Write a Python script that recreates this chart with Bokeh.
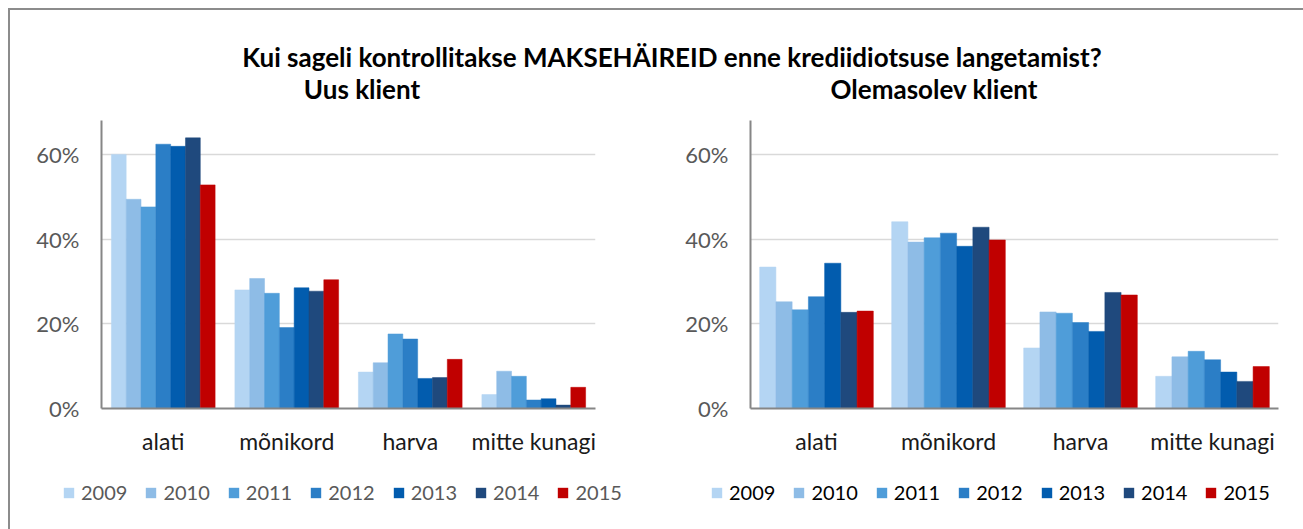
from bokeh.plotting import figure
from bokeh.models import (ColumnDataSource, Range1d, FactorRange, FixedTicker,
                          PrintfTickFormatter, Legend, LegendItem, Div)
from bokeh.transform import dodge
from bokeh.layouts import column, row
from bokeh.embed import file_html
from bokeh.resources import INLINE

# ---------------- data ----------------
main_title = "Kui sageli kontrollitakse MAKSEHÄIREID enne krediidiotsuse langetamist?"
subtitle_left = "Uus klient"
subtitle_right = "Olemasolev klient"
categories = ["alati", "mõnikord", "harva", "mitte kunagi"]
years = ["2009", "2010", "2011", "2012", "2013", "2014", "2015"]
colors = ["#b4d5f3", "#8ebce6", "#4f9dd9", "#2b7ec6", "#025cae", "#1f497d", "#c00000"]
y_ticks = [0, 20, 40, 60]

# Uus klient (%)
uus_2009 = [60.0, 28.0, 8.6, 3.3]
uus_2010 = [49.4, 30.7, 10.8, 8.8]
uus_2011 = [47.6, 27.2, 17.6, 7.6]
uus_2012 = [62.4, 19.1, 16.4, 2.0]
uus_2013 = [61.9, 28.5, 7.1, 2.3]
uus_2014 = [63.9, 27.7, 7.3, 0.8]
uus_2015 = [52.8, 30.4, 11.6, 5.0]

# Olemasolev klient (%)
ole_2009 = [33.4, 44.1, 14.3, 7.6]
ole_2010 = [25.2, 39.3, 22.8, 12.2]
ole_2011 = [23.3, 40.3, 22.5, 13.5]
ole_2012 = [26.4, 41.4, 20.3, 11.5]
ole_2013 = [34.3, 38.3, 18.2, 8.6]
ole_2014 = [22.7, 42.8, 27.4, 6.4]
ole_2015 = [23.0, 39.8, 26.8, 9.9]

uus_series = [uus_2009, uus_2010, uus_2011, uus_2012, uus_2013, uus_2014, uus_2015]
ole_series = [ole_2009, ole_2010, ole_2011, ole_2012, ole_2013, ole_2014, ole_2015]

FONT = "Lato"


def make_chart(series, width, mb_left, mb_right, bar_w):
    p = figure(x_range=FactorRange(*categories), y_range=Range1d(0, 68),
               width=width, height=350, output_backend="svg", title=None,
               toolbar_location=None, min_border_left=mb_left,
               min_border_right=mb_right, min_border_top=10,
               min_border_bottom=52)
    p.outline_line_color = None
    p.background_fill_color = "white"
    p.border_fill_color = "white"

    n = len(series)
    for i, (vals, col) in enumerate(zip(series, colors)):
        src = ColumnDataSource(dict(cat=categories, val=vals))
        p.vbar(x=dodge("cat", (i - (n - 1) / 2) * bar_w, range=p.x_range),
               top="val", width=bar_w, source=src,
               fill_color=col, line_color=col, line_width=0.5)

    for ax in (p.xaxis[0], p.yaxis[0]):
        ax.axis_line_color = "#868686"
        ax.axis_line_width = 2
        ax.major_tick_line_color = None
        ax.minor_tick_line_color = None
        ax.major_label_text_font = FONT
    p.yaxis.ticker = FixedTicker(ticks=y_ticks)
    p.yaxis.formatter = PrintfTickFormatter(format="%d%%")
    p.yaxis.major_label_text_font_size = "22px"
    p.yaxis.major_label_text_color = "#595959"
    p.yaxis.major_label_standoff = 16
    p.xaxis.major_label_text_font_size = "23px"
    p.xaxis.major_label_text_color = "#1a1a1a"
    p.xaxis.major_label_standoff = 12

    p.xgrid.grid_line_color = None
    p.ygrid.ticker = FixedTicker(ticks=y_ticks)
    p.ygrid.grid_line_color = "#d9d9d9"
    p.ygrid.grid_line_width = 1.5
    return p


def make_legend(width, legend_x, text_color):
    lf = figure(width=width, height=69, output_backend="svg", title=None,
                toolbar_location=None, x_range=Range1d(0, 1), y_range=Range1d(0, 1),
                x_axis_location=None, y_axis_location=None,
                min_border_left=0, min_border_right=0, min_border_top=0,
                min_border_bottom=0)
    lf.outline_line_color = None
    lf.xgrid.grid_line_color = None
    lf.ygrid.grid_line_color = None
    lf.background_fill_color = "white"
    lf.border_fill_color = "white"
    items = []
    for yr, col in zip(years, colors):
        # zero-height placeholder bar: only its legend swatch is visible
        src = ColumnDataSource(dict(x=[0.5], top=[0.0]))
        r = lf.vbar(x="x", top="top", bottom=0, width=0.1, source=src,
                    fill_color=col, line_color=col, line_alpha=0)
        items.append(LegendItem(label=yr, renderers=[r]))
    legend = Legend(items=items, orientation="horizontal",
                    location=(legend_x, 25), glyph_width=13, glyph_height=13,
                    label_standoff=6, spacing=17, padding=0, margin=0,
                    border_line_color=None, background_fill_alpha=0,
                    label_text_font=FONT, label_text_font_size="20px",
                    label_text_color=text_color)
    lf.add_layout(legend)
    return lf


p1 = make_chart(uus_series, 650, 91, 65, 0.12)
p2 = make_chart(ole_series, 643, 90, 25, 0.123)
l1 = make_legend(650, 52, "#595959")
l2 = make_legend(643, 50, "#000000")

head_style = (f"position:absolute;text-align:center;font-family:{FONT};"
              "font-weight:bold;color:#000;white-space:nowrap;")
title_div = Div(
    text=(
        '<div style="position:relative;width:1293px;height:100px;">'
        f'<div style="{head_style}left:112px;width:1100px;top:33px;'
        f'font-size:26px;line-height:28px;">{main_title}</div>'
        f'<div style="{head_style}left:202px;width:300px;top:65px;'
        f'font-size:26px;line-height:28px;">{subtitle_left}</div>'
        f'<div style="{head_style}left:774px;width:300px;top:65px;'
        f'font-size:26px;line-height:28px;">{subtitle_right}</div>'
        '</div>'),
    width=1293, height=100, margin=0)

layout = column(title_div, row(p1, p2), row(l1, l2),
                styles={"margin": "8px 0 0 8px",
                        "border-top": "2px solid #8c8c8c",
                        "border-left": "2px solid #8c8c8c",
                        "background-color": "white"})

open("out.html", "w").write(file_html(layout, INLINE))
